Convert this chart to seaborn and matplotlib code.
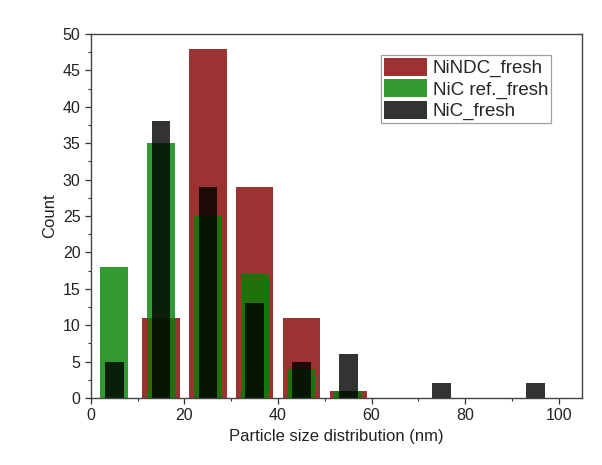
import matplotlib
matplotlib.use("Agg")
import matplotlib.pyplot as plt
import seaborn as sns
import numpy as np
from matplotlib.ticker import MultipleLocator
from matplotlib.patches import Patch

sizes = [5, 15, 25, 35, 45, 55, 65, 75, 85, 95]
nindc_fresh = [0, 11, 48, 29, 11, 1, 0, 0, 0, 0]
nic_ref_fresh = [18, 35, 25, 17, 4, 1, 0, 0, 0, 0]
nic_fresh = [5, 38, 29, 13, 5, 6, 0, 2, 0, 2]
labels = ["NiNDC_fresh", "NiC ref._fresh", "NiC_fresh"]
colors = ["#820000", "#008100", "#000000"]
ALPHA = 0.8

sns.set_style("ticks")
plt.rcParams['font.family'] = ['Liberation Sans', 'DejaVu Sans']

fig = plt.figure(figsize=(6.02, 4.65), dpi=100)
ax = fig.add_axes([0.151, 0.144, 0.816, 0.783])

for vals, col, w in zip([nindc_fresh, nic_ref_fresh, nic_fresh], colors, [0.8, 0.6, 0.4]):
    sns.barplot(x=sizes, y=vals, native_scale=True, width=w, color=col,
                alpha=ALPHA, ax=ax, linewidth=0, saturation=1)

ax.set_xlim(0, 105)
ax.set_ylim(0, 50)
ax.xaxis.set_major_locator(MultipleLocator(20))
ax.xaxis.set_minor_locator(MultipleLocator(10))
ax.yaxis.set_major_locator(MultipleLocator(5))
ax.yaxis.set_minor_locator(MultipleLocator(2.5))
ax.tick_params(which='major', direction='out', length=4, width=0.9, labelsize=11.5, colors='#333333', labelcolor='#222222')
ax.tick_params(which='minor', direction='out', length=2.5, width=0.8, colors='#333333')
for s in ax.spines.values():
    s.set_visible(True)
    s.set_color('#444444')
    s.set_linewidth(1.0)
ax.set_xlabel("Particle size distribution (nm)", fontsize=12, color='#222222')
ax.set_ylabel("Count", fontsize=12, color='#222222')

handles = [Patch(facecolor=c, alpha=ALPHA, edgecolor='none') for c in colors]
leg = ax.legend(handles, labels, loc='upper right', bbox_to_anchor=(0.937, 0.942),
                borderaxespad=0, fontsize=13.5, handlelength=2.3, handleheight=1.1,
                handletextpad=0.3, borderpad=0.15, labelspacing=0.1,
                fancybox=False, frameon=True)
leg.get_frame().set_edgecolor('#888888')
leg.get_frame().set_linewidth(0.9)

fig.savefig("out.png", dpi=100)
